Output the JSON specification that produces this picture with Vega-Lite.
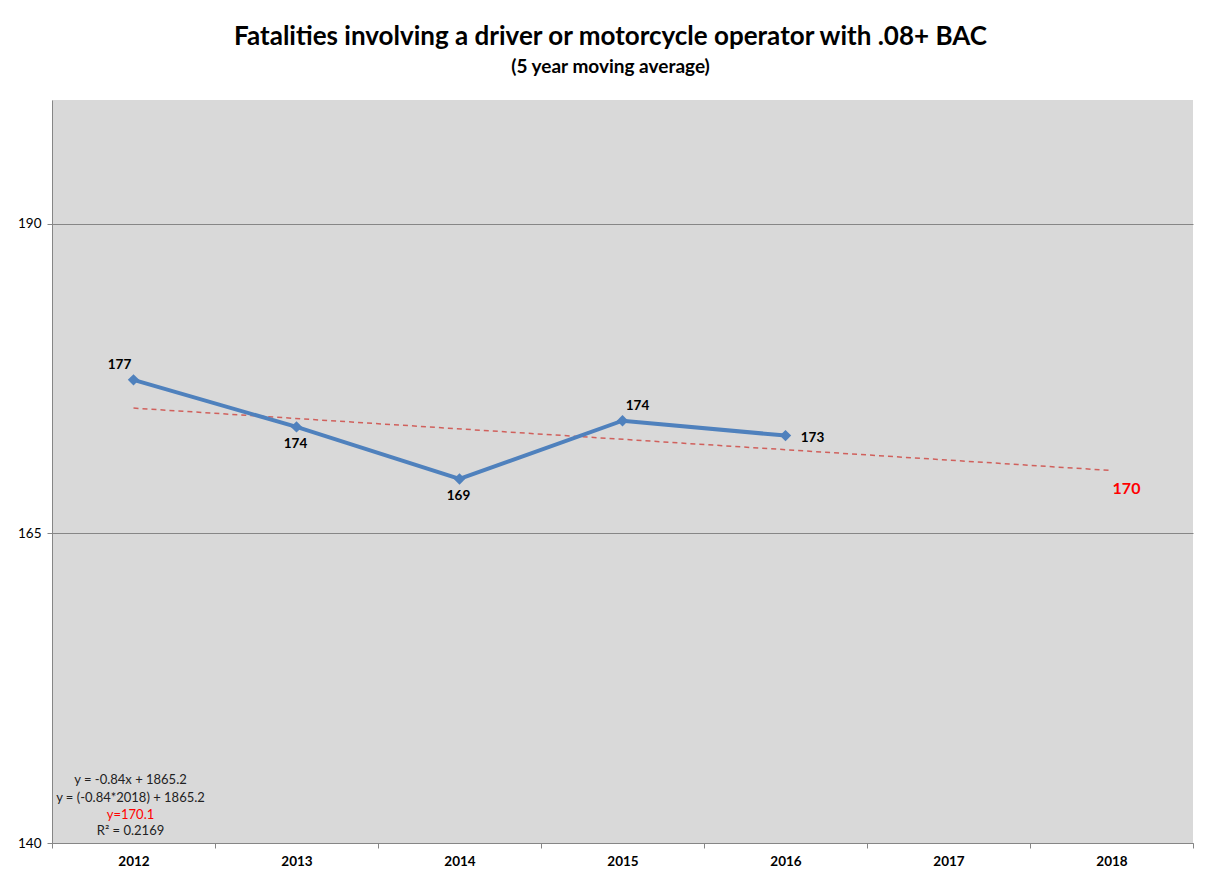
{
  "$schema": "https://vega.github.io/schema/vega-lite/v6.json",
  "width": 1141,
  "height": 743,
  "autosize": {"type": "none"},
  "padding": {"left": 52, "top": 100, "right": 23, "bottom": 34},
  "background": "white",
  "title": {
    "text": "Fatalities involving a driver or motorcycle operator with .08+ BAC",
    "subtitle": "(5 year moving average)",
    "anchor": "middle",
    "dx": -12,
    "offset": 23,
    "font": "Lato",
    "fontSize": 26,
    "fontWeight": "bold",
    "color": "#000000",
    "subtitleFont": "Lato",
    "subtitleFontSize": 19,
    "subtitleFontWeight": "bold",
    "subtitleColor": "#000000",
    "subtitlePadding": 8
  },
  "config": {
    "view": {"fill": "#D9D9D9", "stroke": null},
    "font": "Lato"
  },
  "datasets": {
    "avg": [
      {"year": "2012", "value": 177.4},
      {"year": "2013", "value": 173.6},
      {"year": "2014", "value": 169.4},
      {"year": "2015", "value": 174.1},
      {"year": "2016", "value": 172.9}
    ],
    "trend": [
      {"year": "2012", "trend": 175.12},
      {"year": "2018", "trend": 170.08}
    ],
    "note": [
      {"line1": "y = -0.84x + 1865.2", "line2": "y = (-0.84*2018) + 1865.2", "line3": "y=170.1", "line4": "R² = 0.2169"}
    ]
  },
  "layer": [
    {
      "data": {"name": "trend"},
      "mark": {"type": "line", "color": "#D0605C", "strokeWidth": 1.5, "strokeDash": [5, 4]},
      "encoding": {
        "x": {
          "field": "year", "type": "ordinal",
          "scale": {"domain": ["2012", "2013", "2014", "2015", "2016", "2017", "2018"], "paddingInner": 0, "paddingOuter": 0},
          "axis": {
            "title": null, "labelAngle": 0, "labelFont": "Lato", "labelFontSize": 13.5, "labelFontWeight": "bold",
            "labelColor": "#000000", "domainColor": "#868686", "tickColor": "#868686", "tickBand": "extent",
            "tickSize": 5, "labelPadding": 6, "grid": false
          }
        },
        "y": {
          "field": "trend", "type": "quantitative",
          "scale": {"domain": [140, 200], "nice": false, "zero": false},
          "axis": {
            "title": null, "values": [140, 165, 190], "labelFont": "Lato", "labelFontSize": 13.5,
            "labelColor": "#000000", "domainColor": "#868686", "tickColor": "#868686", "tickSize": 5,
            "labelPadding": 6, "grid": true, "gridColor": "#868686", "gridWidth": 1
          }
        }
      }
    },
    {
      "data": {"name": "trend"},
      "transform": [{"filter": "datum.year == '2018'"}],
      "mark": {"type": "text", "color": "#FF0000", "fontSize": 16, "fontWeight": "bold", "dx": 15, "dy": 18},
      "encoding": {
        "x": {"field": "year", "type": "ordinal"},
        "y": {"field": "trend", "type": "quantitative"},
        "text": {"field": "trend", "type": "quantitative", "format": ".0f"}
      }
    },
    {
      "data": {"name": "avg"},
      "mark": {"type": "line", "color": "#4F81BD", "strokeWidth": 4},
      "encoding": {
        "x": {"field": "year", "type": "ordinal"},
        "y": {"field": "value", "type": "quantitative"}
      }
    },
    {
      "data": {"name": "avg"},
      "mark": {"type": "point", "shape": "diamond", "filled": true, "color": "#4F81BD", "opacity": 1, "size": 130},
      "encoding": {
        "x": {"field": "year", "type": "ordinal"},
        "y": {"field": "value", "type": "quantitative"}
      }
    },
    {
      "data": {"name": "avg"},
      "transform": [{"filter": "datum.year == '2012'"}],
      "mark": {"type": "text", "fontSize": 13.5, "fontWeight": "bold", "color": "#000000", "dx": -14, "dy": -15},
      "encoding": {
        "x": {"field": "year", "type": "ordinal"},
        "y": {"field": "value", "type": "quantitative"},
        "text": {"field": "value", "type": "quantitative", "format": ".0f"}
      }
    },
    {
      "data": {"name": "avg"},
      "transform": [{"filter": "datum.year == '2013' || datum.year == '2014'"}],
      "mark": {"type": "text", "fontSize": 13.5, "fontWeight": "bold", "color": "#000000", "dx": -1, "dy": 17},
      "encoding": {
        "x": {"field": "year", "type": "ordinal"},
        "y": {"field": "value", "type": "quantitative"},
        "text": {"field": "value", "type": "quantitative", "format": ".0f"}
      }
    },
    {
      "data": {"name": "avg"},
      "transform": [{"filter": "datum.year == '2015'"}],
      "mark": {"type": "text", "fontSize": 13.5, "fontWeight": "bold", "color": "#000000", "dx": 15, "dy": -15},
      "encoding": {
        "x": {"field": "year", "type": "ordinal"},
        "y": {"field": "value", "type": "quantitative"},
        "text": {"field": "value", "type": "quantitative", "format": ".0f"}
      }
    },
    {
      "data": {"name": "avg"},
      "transform": [{"filter": "datum.year == '2016'"}],
      "mark": {"type": "text", "fontSize": 13.5, "fontWeight": "bold", "color": "#000000", "dx": 27, "dy": 2},
      "encoding": {
        "x": {"field": "year", "type": "ordinal"},
        "y": {"field": "value", "type": "quantitative"},
        "text": {"field": "value", "type": "quantitative", "format": ".0f"}
      }
    },
    {
      "data": {"name": "note"},
      "mark": {"type": "text", "fontSize": 13, "color": "#222222", "dx": -3},
      "encoding": {
        "x": {"datum": "2012", "type": "ordinal"},
        "y": {"datum": 145.1, "type": "quantitative"},
        "text": {"field": "line1"}
      }
    },
    {
      "data": {"name": "note"},
      "mark": {"type": "text", "fontSize": 13, "color": "#222222", "dx": -3},
      "encoding": {
        "x": {"datum": "2012", "type": "ordinal"},
        "y": {"datum": 143.6, "type": "quantitative"},
        "text": {"field": "line2"}
      }
    },
    {
      "data": {"name": "note"},
      "mark": {"type": "text", "fontSize": 13, "color": "#FF0000", "dx": -3},
      "encoding": {
        "x": {"datum": "2012", "type": "ordinal"},
        "y": {"datum": 142.25, "type": "quantitative"},
        "text": {"field": "line3"}
      }
    },
    {
      "data": {"name": "note"},
      "mark": {"type": "text", "fontSize": 13, "color": "#222222", "dx": -3},
      "encoding": {
        "x": {"datum": "2012", "type": "ordinal"},
        "y": {"datum": 140.95, "type": "quantitative"},
        "text": {"field": "line4"}
      }
    }
  ]
}
